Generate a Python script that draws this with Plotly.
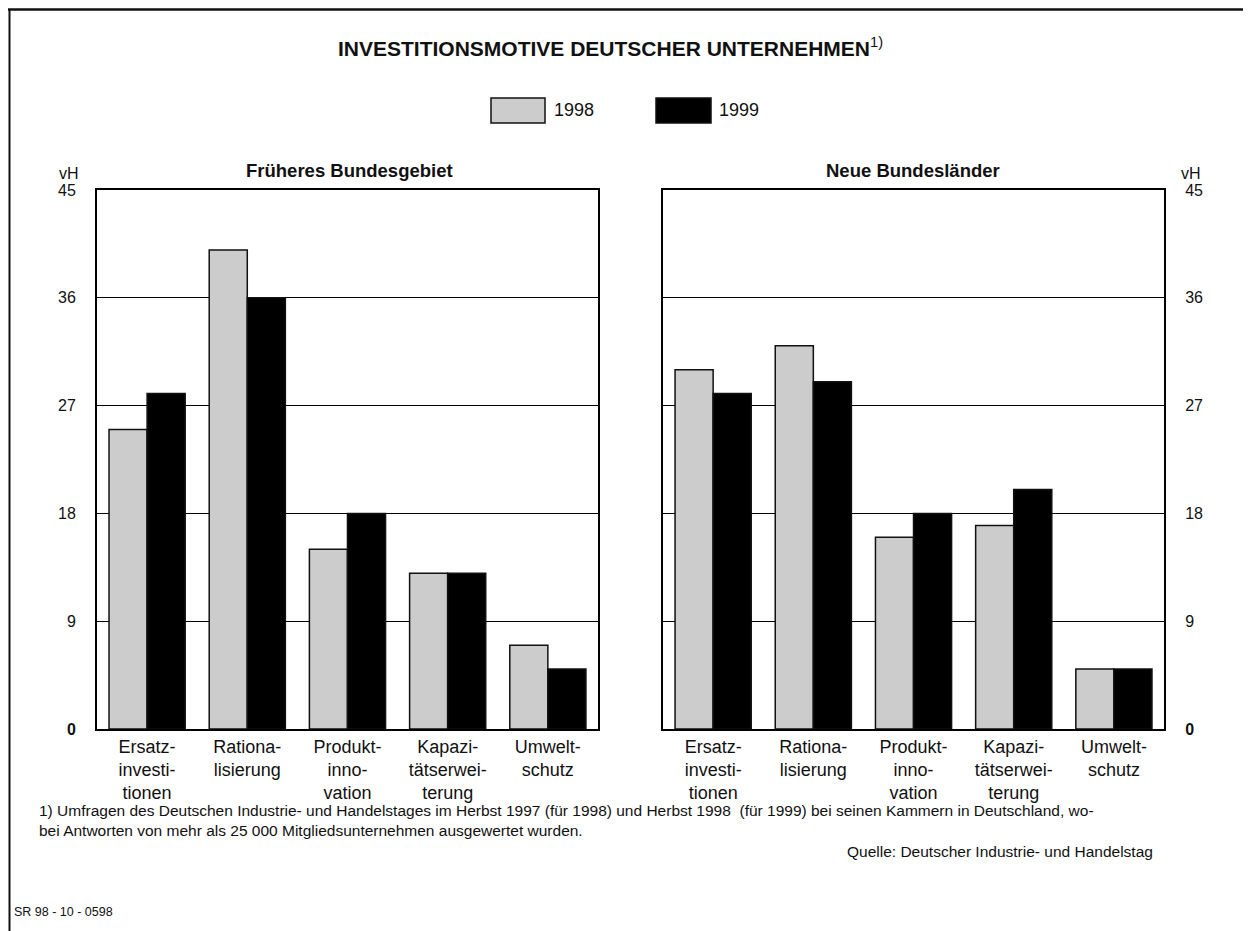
import plotly.graph_objects as go

# Daten (vH der Unternehmen)
motive = ["Ersatz-<br>investi-<br>tionen", "Rationa-<br>lisierung", "Produkt-<br>inno-<br>vation",
          "Kapazi-<br>tätserwei-<br>terung", "Umwelt-<br>schutz"]
motive_keys = ["Ersatz", "Rationalisierung", "Produktinnovation", "Kapazitaet", "Umwelt"]
jahre = ["1998", "1999"]

west_1998 = [25, 40, 15, 13, 7]
west_1999 = [28, 36, 18, 13, 5]
ost_1998 = [30, 32, 16, 17, 5]
ost_1999 = [28, 29, 18, 20, 5]

y_ticks = [0, 9, 18, 27, 36, 45]
y_ticktext = ["<b>0</b>", "9", "18", "27", "36", "45"]

FONT = "Liberation Sans, Arial, sans-serif"
grau = "#cccccc"
schwarz = "#000000"

fig = go.Figure()

for xa, ya, v98, v99 in [("x", "y", west_1998, west_1999), ("x2", "y2", ost_1998, ost_1999)]:
    fig.add_trace(go.Bar(x=motive_keys, y=v98, name=jahre[0], xaxis=xa, yaxis=ya,
                         marker=dict(color=grau, line=dict(color="#111111", width=1.5)),
                         showlegend=False, hoverinfo="y"))
    fig.add_trace(go.Bar(x=motive_keys, y=v99, name=jahre[1], xaxis=xa, yaxis=ya,
                         marker=dict(color=schwarz, line=dict(color="#111111", width=1.5)),
                         showlegend=False, hoverinfo="y"))

xcommon = dict(tickvals=motive_keys, ticktext=motive, showline=True, linecolor="black", linewidth=2,
               mirror=True, ticks="", showgrid=False, tickfont=dict(family=FONT, size=18, color="#111"),
               fixedrange=True)
ycommon = dict(range=[0, 45], tickvals=y_ticks, ticktext=y_ticktext, showline=True, linecolor="black",
               linewidth=2, mirror=True, showgrid=True, gridcolor="black", gridwidth=1.2, zeroline=False,
               ticks="", tickfont=dict(family=FONT, size=16, color="#111"), ticklabelstandoff=16,
               fixedrange=True)

# die Seite hat 8px Rand, daher sind die Raender um 8px verschoben
fig.update_layout(
    width=1251, height=931,
    margin=dict(l=89, r=95, t=182, b=210),
    plot_bgcolor="white", paper_bgcolor="white",
    barmode="group", bargap=0.24, bargroupgap=0,
    xaxis=dict(domain=[0, 0.4695], anchor="y", **xcommon),
    xaxis2=dict(domain=[0.5305, 1], anchor="y2", **xcommon),
    yaxis=dict(anchor="x", side="left", **ycommon),
    yaxis2=dict(anchor="x2", side="right", **ycommon),
    font=dict(family=FONT, color="#111"),
)

# Seiten-Pixel -> Papier-Koordinaten
def px(x):
    return (x - 97) / 1067

def py(y):
    return (729 - y) / 539

ann = []
ann.append(dict(text="<b>INVESTITIONSMOTIVE DEUTSCHER UNTERNEHMEN</b><sup>1)</sup>", x=px(610), y=py(47),
                font=dict(size=21)))
ann.append(dict(text="<b>Früheres Bundesgebiet</b>", x=px(349), y=py(171), font=dict(size=18.5)))
ann.append(dict(text="<b>Neue Bundesländer</b>", x=px(913), y=py(171), font=dict(size=18.5)))
ann.append(dict(text="vH", x=px(81), y=py(174), xanchor="right", font=dict(size=16)))
ann.append(dict(text="vH", x=px(1179), y=py(174), xanchor="left", font=dict(size=16)))
ann.append(dict(text=jahre[0], x=px(552), y=py(110), xanchor="left", font=dict(size=18)))
ann.append(dict(text=jahre[1], x=px(717), y=py(110), xanchor="left", font=dict(size=18)))
ann.append(dict(text="1) Umfragen des Deutschen Industrie- und Handelstages im Herbst 1997 (für 1998) und Herbst 1998  (für 1999) bei seinen Kammern in Deutschland, wo-<br>bei Antworten von mehr als 25 000 Mitgliedsunternehmen ausgewertet wurden.",
                x=px(37), y=py(800), xanchor="left", yanchor="top", align="left", font=dict(size=15.5)))
ann.append(dict(text="Quelle: Deutscher Industrie- und Handelstag", x=px(1155), y=py(851), xanchor="right",
                font=dict(size=15.5)))
ann.append(dict(text="SR 98 - 10 - 0598", x=px(12), y=py(912), xanchor="left", font=dict(size=12.5)))
for a in ann:
    a.setdefault("xanchor", "center")
    a.setdefault("yanchor", "middle")
    a.update(xref="paper", yref="paper", showarrow=False)
    a["font"].setdefault("family", FONT)
    a["font"].setdefault("color", "#111")
fig.update_layout(annotations=ann)

shapes = [
    # Legendenkaestchen
    dict(type="rect", x0=px(491), x1=px(545), y0=py(98), y1=py(123), fillcolor=grau,
         line=dict(color="#111", width=1.5)),
    dict(type="rect", x0=px(656), x1=px(711), y0=py(98), y1=py(123), fillcolor=schwarz,
         line=dict(color="#111", width=1.5)),
    # Rahmen oben und links
    dict(type="line", x0=px(8), x1=px(1260), y0=py(9.5), y1=py(9.5), line=dict(color="#111", width=2.5)),
    dict(type="line", x0=px(9.5), x1=px(9.5), y0=py(9), y1=py(940), line=dict(color="#111", width=2)),
]
for s in shapes:
    s.update(xref="paper", yref="paper")
fig.update_layout(shapes=shapes)

fig.write_html("out.html")
